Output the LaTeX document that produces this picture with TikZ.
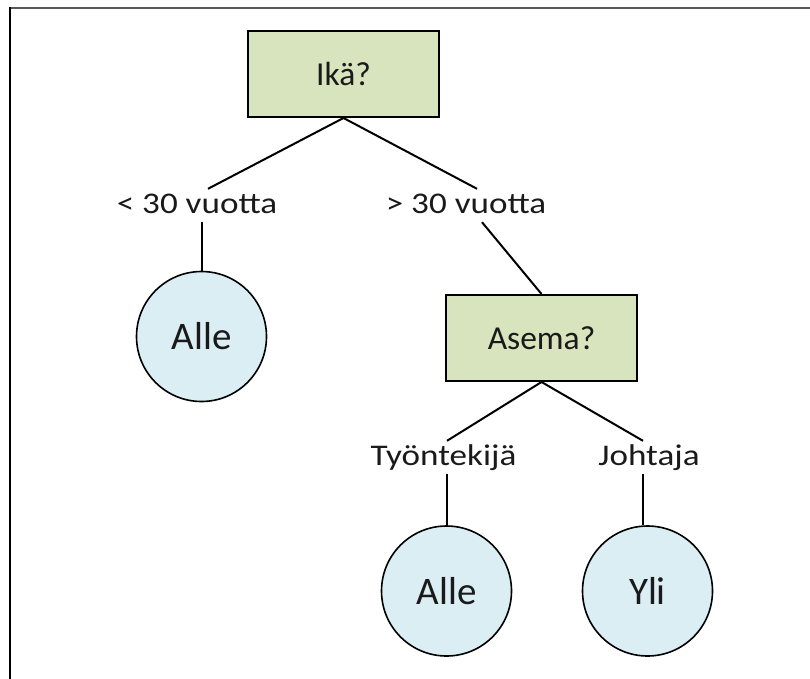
\documentclass[tikz,border=0pt]{standalone}
\usepackage{fontspec}
\setmainfont{Carlito}
\newfontfamily\lblfont[FakeStretch=1.17]{Carlito}
\definecolor{boxgreen}{HTML}{D7E4BD}
\definecolor{leafblue}{HTML}{DBEEF4}
\definecolor{framegray}{HTML}{5A5A5A}
\definecolor{inkc}{HTML}{1A1A1A}
\begin{document}
\begin{tikzpicture}[x=1pt,y=-1pt,
  decision/.style={draw=black,line width=2pt,fill=boxgreen,minimum width=191pt,minimum height=86pt,inner sep=0pt,text=inkc,font=\fontsize{33.5}{40}\selectfont},
  leaf/.style={circle,draw=black,line width=1.6pt,fill=leafblue,minimum size=130pt,inner sep=0pt,text=inkc,font=\fontsize{39}{46}\selectfont},
  edgelabel/.style={inner sep=2pt,text height=22pt,text depth=7pt,text=inkc,font=\lblfont\fontsize{30}{36}\selectfont},
  conn/.style={draw=black,line width=2pt}]
\useasboundingbox (0,0) rectangle (810,679);
\fill[white] (0,0) rectangle (810,679);
% frame
\draw[framegray,line width=2pt] (10,8) -- (810,8);
\draw[black,line width=2pt] (10,7) -- (10,679);
% nodes
\node[decision] (ika) at (343.5,74) {Ikä?};
\node[decision] (asema) at (541.5,338) {Asema?};
\node[leaf] (alle1) at (201.5,336.5) {Alle};
\node[leaf] (alle2) at (446.5,591) {Alle};
\node[leaf] (yli) at (647.5,591) {Yli};
\node[edgelabel,anchor=base] (lt) at (197,213) {< 30 vuotta};
\node[edgelabel,anchor=base] (gt) at (466,213) {> 30 vuotta};
\node[edgelabel,anchor=base] (tyo) at (443.5,465) {Työntekijä};
\node[edgelabel,anchor=base] (joh) at (649,465) {Johtaja};
% connectors
\draw[conn] (ika.south) -- ([xshift=11pt]lt.north);
\draw[conn] ([xshift=4.5pt]lt.south) -- ([xshift=4.5pt]lt.south |- alle1.north);
\draw[conn] (ika.south) -- ([xshift=11pt]gt.north);
\draw[conn] ([xshift=16pt]gt.south) -- (asema.north);
\draw[conn] (asema.south) -- ([xshift=3.5pt]tyo.north);
\draw[conn] ([xshift=3.5pt]tyo.south) -- ([xshift=3.5pt]tyo.south |- alle2.north);
\draw[conn] (asema.south) -- ([xshift=-6pt]joh.north);
\draw[conn] ([xshift=-6pt]joh.south) -- ([xshift=-6pt]joh.south |- yli.north);
\end{tikzpicture}
\end{document}
